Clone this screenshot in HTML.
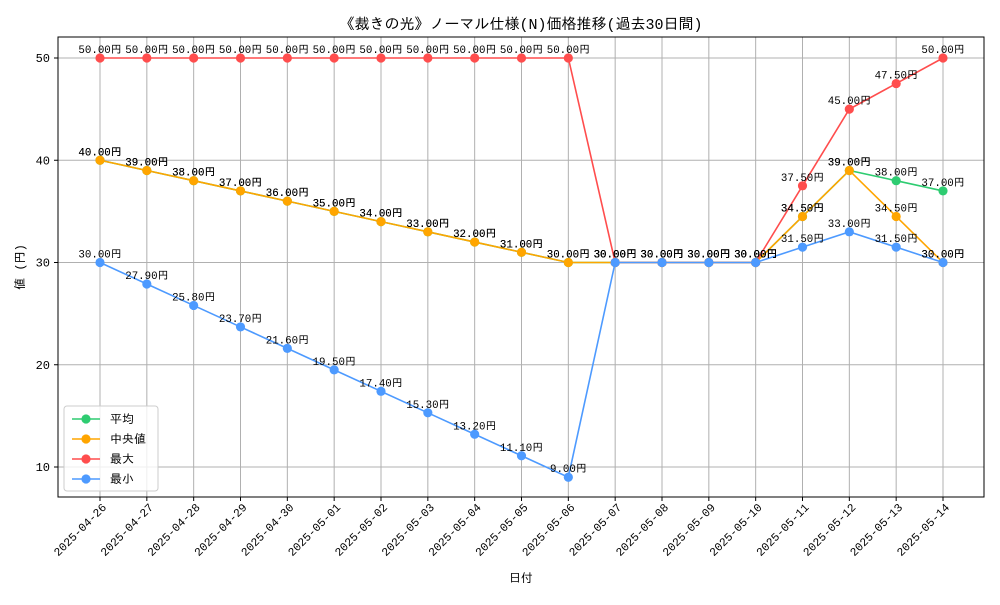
<!DOCTYPE html>
<html><head><meta charset="utf-8"><style>
body{margin:0;background:#fff}
text{font-family:"Liberation Mono","IPAGothic",monospace;fill:#000}
</style></head><body>
<svg id="c" width="1000" height="600" xmlns="http://www.w3.org/2000/svg">
<rect width="1000" height="600" fill="#fff"/>
<text x="521" y="29" font-size="15" text-anchor="middle">《裁きの光》ノーマル仕様(N)価格推移(過去30日間)</text>
<g id="grid"></g><g id="series"></g><g id="labels"></g>
<rect x="58" y="37" width="926" height="460" fill="none" stroke="#000" stroke-width="1"/>
<text x="521" y="582" font-size="12" text-anchor="middle">日付</text>
<text x="24" y="267" font-size="12" text-anchor="middle" transform="rotate(-90 24 267)">値 (円)</text>
</svg>
<script>
const dates=["2025-04-26","2025-04-27","2025-04-28","2025-04-29","2025-04-30","2025-05-01","2025-05-02","2025-05-03","2025-05-04","2025-05-05","2025-05-06","2025-05-07","2025-05-08","2025-05-09","2025-05-10","2025-05-11","2025-05-12","2025-05-13","2025-05-14"];
const avgVals=[40,39,38,37,36,35,34,33,32,31,30,30,30,30,30,34.5,39,38,37];
const medVals=[40,39,38,37,36,35,34,33,32,31,30,30,30,30,30,34.5,39,34.5,30];
const maxVals=[50,50,50,50,50,50,50,50,50,50,50,30,30,30,30,37.5,45,47.5,50];
const minVals=[30,27.9,25.8,23.7,21.6,19.5,17.4,15.3,13.2,11.1,9,30,30,30,30,31.5,33,31.5,30];
const yTicks=[10,20,30,40,50];
const NS="http://www.w3.org/2000/svg";
const xs=i=>100+i*(943-100)/(dates.length-1);
const ys=v=>569.25-v*10.225;
function mk(t,a,p){const e=document.createElementNS(NS,t);for(const k in a)e.setAttribute(k,a[k]);p.appendChild(e);return e;}
const g=document.getElementById('grid'),s=document.getElementById('series'),L=document.getElementById('labels'),svg=document.getElementById('c');
dates.forEach((d,i)=>{
 const l=mk('line',{x1:xs(i),x2:xs(i),y1:37,y2:497,stroke:'#b0b0b0','stroke-width':1},g);
 
 
 mk('line',{x1:xs(i),x2:xs(i),y1:497,y2:501,stroke:'#000'},g);
 const t=mk('text',{x:xs(i)+7,y:508,'font-size':11.5,'text-anchor':'end',transform:`rotate(-45 ${xs(i)+7} 508)`},g);
 t.textContent=d;
 
 
});
yTicks.forEach(v=>{
 const l=mk('line',{x1:58,x2:984,y1:ys(v),y2:ys(v),stroke:'#b0b0b0','stroke-width':1},g);
 
 
 mk('line',{x1:54,x2:58,y1:ys(v),y2:ys(v),stroke:'#000'},g);
 const t=mk('text',{x:50,y:ys(v)+4,'font-size':12,'text-anchor':'end'},g);
 t.textContent=v;
 
 
});
const ser=[["avg","平均",avgVals,"#2ecc71"],["median","中央値",medVals,"#ffa500"],["max","最大",maxVals,"#ff4d4d"],["min","最小",minVals,"#4d9aff"]];
ser.forEach(([k,n,vals,c])=>{
 const p=mk('polyline',{points:vals.map((v,i)=>xs(i)+','+ys(v)).join(' '),fill:'none',stroke:c,'stroke-width':1.6},s);
 
 
 vals.forEach((v,i)=>{
  const m=mk('circle',{cx:xs(i),cy:ys(v),r:4.6,fill:c},s);
  
  
  const t=mk('text',{x:xs(i),y:ys(v)-5,'font-size':10.8,'text-anchor':'middle'},L);
  t.textContent=v.toFixed(2)+'円';
  
  
 });
});
const lg=mk('g',{},svg);


mk('rect',{x:64,y:406,width:94,height:85,rx:3,fill:'#fff','fill-opacity':0.8,stroke:'#ccc'},lg);
ser.forEach(([k,n,vals,c],j)=>{
 const y=419+j*20;
 mk('line',{x1:72,x2:100,y1:y,y2:y,stroke:c,'stroke-width':1.6},lg);
 mk('circle',{cx:86,cy:y,r:4.6,fill:c},lg);
 const t=mk('text',{x:110,y:y+4,'font-size':12},lg);
 t.textContent=n;
 
 
});
</script>
</body></html>
